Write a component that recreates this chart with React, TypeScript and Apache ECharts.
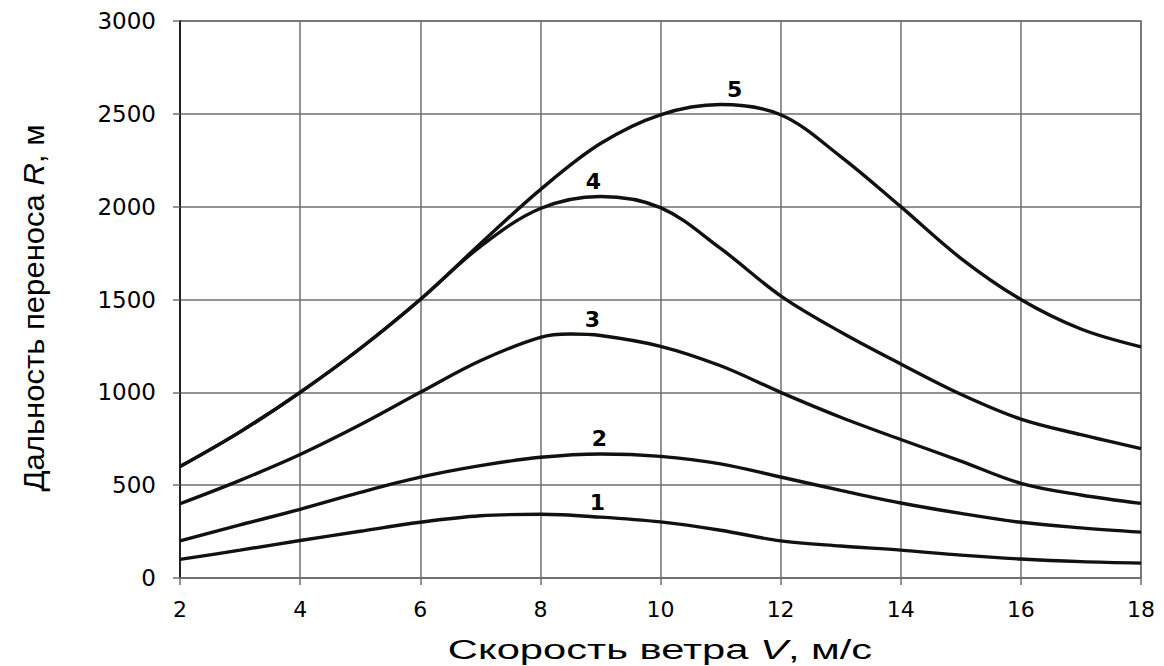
import React, { useEffect, useRef } from "react";
import * as echarts from "echarts";

// Wind speed V, m/s
const V = [2, 3, 4, 5, 6, 7, 8, 9, 10, 11, 12, 13, 14, 15, 16, 17, 18];
// curve 3 is also read at its peak (8.5 m/s)
const V3 = [2, 3, 4, 5, 6, 7, 8, 8.5, 9, 10, 11, 12, 13, 14, 15, 16, 17, 18];
// Transport distance R, m for curves 1..5
const R1 = [100, 150, 202, 252, 300, 335, 343, 328, 302, 257, 200, 172, 150, 123, 102, 88, 80];
const R2 = [200, 286, 370, 461, 543, 605, 650, 668, 655, 615, 544, 472, 404, 348, 300, 270, 247];
const R3 = [400, 526, 665, 825, 1000, 1170, 1296, 1314, 1306, 1248, 1143, 1000, 866, 746, 630, 510, 447, 402];
const R4 = [600, 787, 1000, 1236, 1500, 1785, 1990, 2055, 1995, 1775, 1520, 1325, 1153, 990, 856, 772, 697];
const R5 = [600, 787, 1000, 1236, 1500, 1800, 2092, 2340, 2495, 2550, 2495, 2270, 2000, 1722, 1500, 1341, 1245];

const SERIES_NAMES = ["1", "2", "3", "4", "5"];
const SERIES_X = [V, V, V3, V, V];
const SERIES_VALUES = [R1, R2, R3, R4, R5];
// x (wind speed) at which each curve's number label sits
const LABEL_AT = [9, 9, 8.5, 9, 11];

const X_TICKS = { min: 2, max: 18, interval: 2 };
const Y_TICKS = { min: 0, max: 3000, interval: 500 };

const LABEL_OFFSETS = [[-3, 0], [-1, 0], [22, 0], [-7, 0], [14, 0]];

export default function App() {
  const ref = useRef<HTMLDivElement>(null);

  useEffect(() => {
    if (!ref.current) return;
    const chart = echarts.init(ref.current, null, { renderer: "svg" });

    const series = SERIES_VALUES.map((vals, si) => {
      const xs = SERIES_X[si];
      return {
        type: "line",
        name: SERIES_NAMES[si],
        smooth: 0.35,
        showSymbol: true,
        symbol: "circle",
        symbolSize: 0,
        z: 3,
        lineStyle: { color: "#111", width: 3.4 },
        itemStyle: { color: "#111" },
        label: { show: false },
        emphasis: { disabled: true },
        data: vals.map((v, i) =>
          xs[i] === LABEL_AT[si]
            ? {
                value: [xs[i], v],
                label: {
                  show: true,
                  position: "top",
                  distance: 4,
                  offset: LABEL_OFFSETS[si],
                  formatter: SERIES_NAMES[si],
                  fontFamily: "DejaVu Sans",
                  fontWeight: "bold",
                  fontSize: 22,
                  color: "#000",
                },
              }
            : [xs[i], v]
        ),
      };
    });

    const gridColor = "#6f6f6f";

    chart.setOption({
      animation: false,
      backgroundColor: "#ffffff",
      grid: {
        left: 180,
        right: 23,
        top: 21,
        bottom: 88,
        outerBoundsMode: "none",
        show: true,
        borderColor: gridColor,
        borderWidth: 1.5,
      },
      xAxis: {
        type: "value",
        min: X_TICKS.min,
        max: X_TICKS.max,
        interval: X_TICKS.interval,
        axisLine: { show: true, lineStyle: { color: gridColor, width: 1.5 } },
        axisTick: { show: true, length: 7, lineStyle: { color: gridColor, width: 1.5 } },
        splitLine: { show: true, lineStyle: { color: gridColor, width: 1.5 } },
        axisLabel: {
          margin: 20,
          fontFamily: "DejaVu Sans",
          fontSize: 22,
          color: "#000",
          formatter: (v: number) => String(v),
        },
      },
      yAxis: {
        type: "value",
        min: Y_TICKS.min,
        max: Y_TICKS.max,
        interval: Y_TICKS.interval,
        axisLine: { show: true, lineStyle: { color: "#222", width: 2 } },
        axisTick: { show: true, length: 7, lineStyle: { color: gridColor, width: 1.5 } },
        splitLine: { show: true, lineStyle: { color: gridColor, width: 1.5 } },
        axisLabel: {
          margin: 24,
          fontFamily: "DejaVu Sans",
          fontSize: 23,
          color: "#000",
          formatter: (v: number) => String(v),
        },
      },
      graphic: [
        {
          type: "text",
          x: 660,
          y: 650,
          scaleX: 1.49,
          silent: true,
          style: {
            text: "Скорость ветра {i|V}, м/с",
            fontFamily: "Liberation Sans",
            fontSize: 28,
            fill: "#000",
            textAlign: "center",
            textVerticalAlign: "middle",
            rich: {
              i: { fontFamily: "Liberation Sans", fontSize: 28, fontStyle: "italic", fill: "#000" },
            },
          },
        },
        {
          type: "text",
          x: 33,
          y: 308,
          rotation: Math.PI / 2,
          scaleX: 1.15,
          scaleY: 1.1,
          silent: true,
          style: {
            text: "Дальность переноса {i|R}, м",
            fontFamily: "Liberation Sans",
            fontSize: 27,
            fill: "#000",
            textAlign: "center",
            textVerticalAlign: "middle",
            rich: {
              i: { fontFamily: "Liberation Sans", fontSize: 27, fontStyle: "italic", fill: "#000" },
            },
          },
        },
      ],
      series,
    });

    return () => chart.dispose();
  }, []);

  return (
    <div
      ref={ref}
      style={{ position: "absolute", left: 0, top: 0, width: 1164, height: 666, background: "#fff" }}
    />
  );
}
